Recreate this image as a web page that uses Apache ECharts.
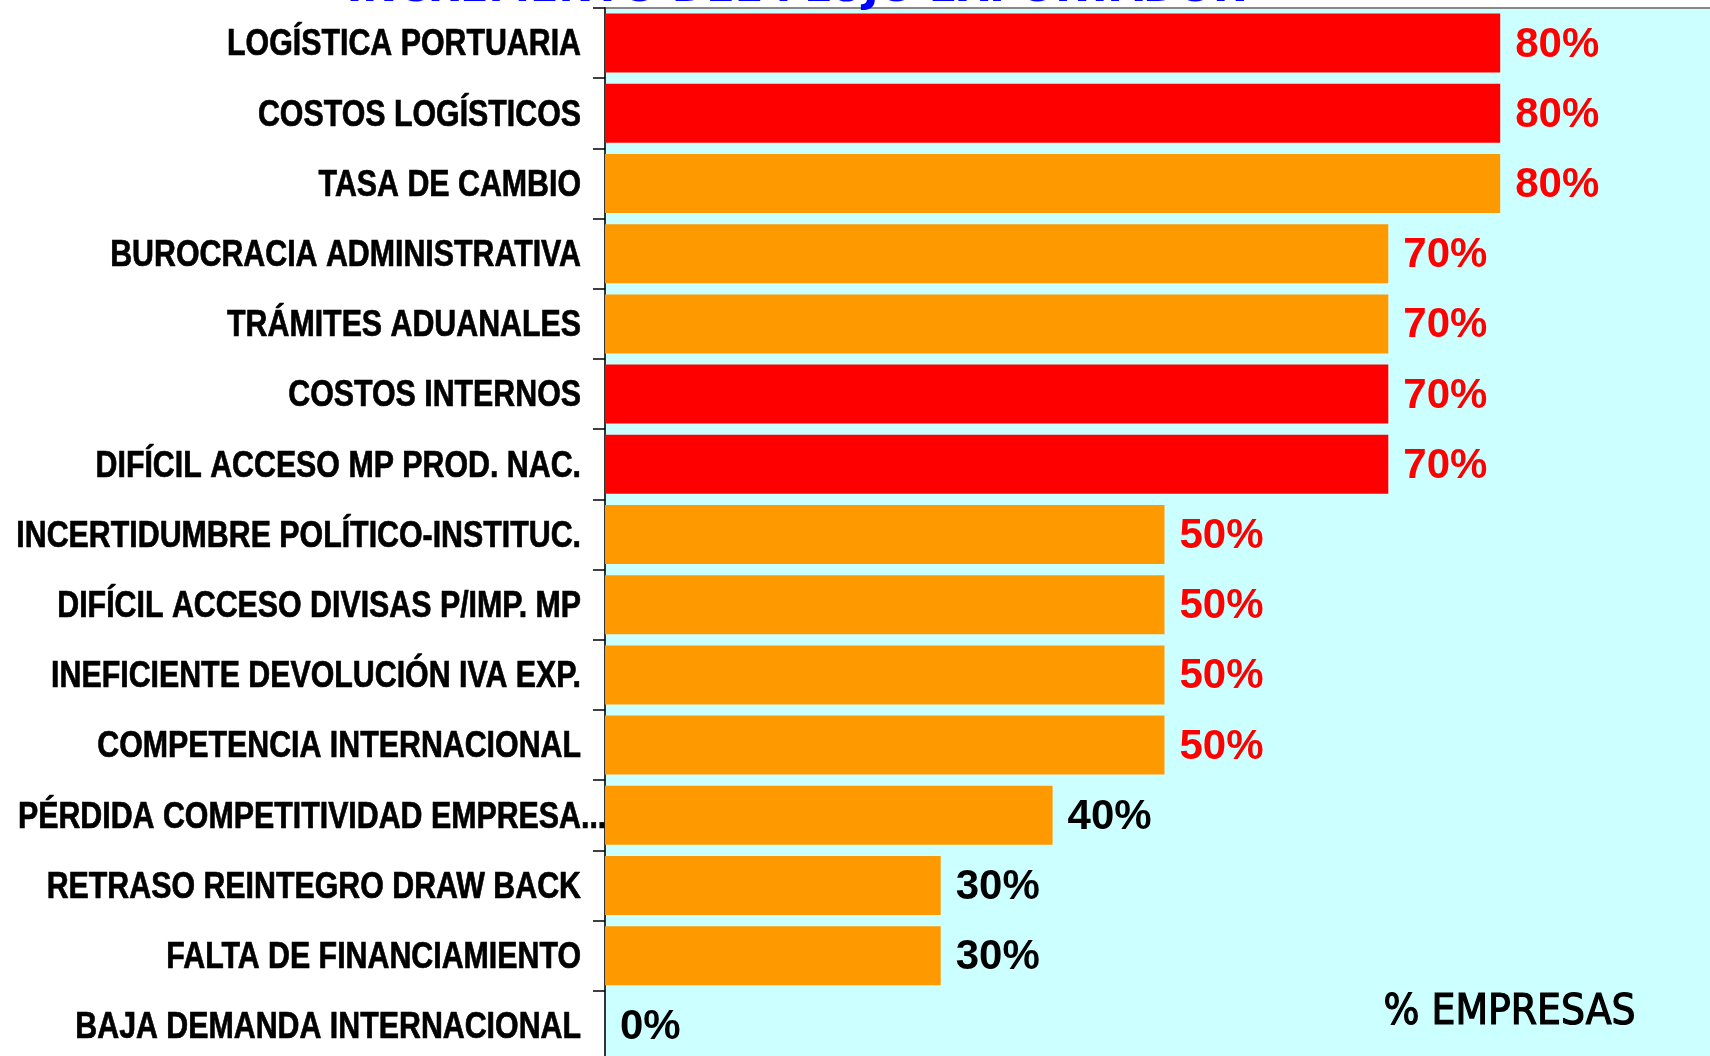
<!DOCTYPE html>
<html>
<head>
<meta charset="utf-8">
<script src="https://cdn.jsdelivr.net/npm/echarts@6/dist/echarts.min.js"></script>
<style>
html,body{margin:0;padding:0;background:#ffffff;}
#chart{width:1710px;height:1056px;}
</style>
</head>
<body>
<div id="chart"></div>
<script>
// ---- data ----
const categories = [
  'LOGÍSTICA PORTUARIA',
  'COSTOS LOGÍSTICOS',
  'TASA DE CAMBIO',
  'BUROCRACIA ADMINISTRATIVA',
  'TRÁMITES ADUANALES',
  'COSTOS INTERNOS',
  'DIFÍCIL ACCESO MP PROD. NAC.',
  'INCERTIDUMBRE POLÍTICO-INSTITUC.',
  'DIFÍCIL ACCESO DIVISAS P/IMP. MP',
  'INEFICIENTE DEVOLUCIÓN IVA EXP.',
  'COMPETENCIA INTERNACIONAL',
  'PÉRDIDA COMPETITIVIDAD EMPRESA...',
  'RETRASO REINTEGRO DRAW BACK',
  'FALTA DE FINANCIAMIENTO',
  'BAJA DEMANDA INTERNACIONAL'
];
const values = [80, 80, 80, 70, 70, 70, 70, 50, 50, 50, 50, 40, 30, 30, 0];
const valueTicks = [0, 100];
const titleText = 'INCREMENTO DEL FLUJO EXPORTADOR';
const axisNameText = '% EMPRESAS';

// ---- styles ----
const RED = '#FF0000', ORANGE = '#FF9900';
const barColors = [RED, RED, ORANGE, ORANGE, ORANGE, RED, RED, ORANGE, ORANGE, ORANGE, ORANGE, ORANGE, ORANGE, ORANGE, ORANGE];
const labelColors = values.map(v => v >= 50 ? '#FF0000' : '#000000');
const CAT_FONT = 'bold 37px "Liberation Sans", Arial, sans-serif';
const CAT_SCALE_X = 0.82;   // emulate a narrow face
const CAT_MARGIN = 24;
const CAT_DY = 2;

const chart = echarts.init(document.getElementById('chart'), null, {renderer: 'canvas'});

const option = {
  animation: false,
  backgroundColor: '#ffffff',
  grid: {
    left: 605, right: -14, top: 8, bottom: -5,
    containLabel: false, outerBoundsMode: 'none',
    show: true, backgroundColor: '#CCFFFF', borderColor: '#888888', borderWidth: 2
  },
  xAxis: {
    type: 'value', min: valueTicks[0], max: valueTicks[1],
    show: false, splitLine: {show: false}
  },
  yAxis: {
    type: 'category', data: categories, inverse: true,
    axisLine: {show: true, lineStyle: {color: '#333333', width: 2}},
    axisTick: {show: true, length: 12, lineStyle: {color: '#000000', width: 1.5}},
    axisLabel: {show: false}
  },
  series: [
    {
      type: 'bar',
      barWidth: 59,
      data: values.map((v, i) => ({
        value: v,
        itemStyle: {color: barColors[i]},
        label: {color: labelColors[i]}
      })),
      label: {
        show: true,
        position: 'right',
        distance: 15,
        offset: [0, 2],
        formatter: '{c}%',
        fontFamily: '"Liberation Sans", Arial, sans-serif',
        fontWeight: 'bold',
        fontSize: 42
      }
    },
    {
      // category labels drawn in a condensed style, positioned through the axes
      type: 'custom',
      silent: true,
      clip: false,
      z: 10,
      data: categories.map((c, i) => [0, i]),
      encode: {x: 0, y: 1},
      renderItem: function (params, api) {
        const idx = api.value(1);
        const p = api.coord([0, idx]);
        const name = categories[idx];
        const x = p[0] - CAT_MARGIN;
        const y = p[1] + CAT_DY;
        const children = [];
        let main = name, tail = '';
        if (name.endsWith('...')) { main = name.slice(0, -3); tail = '...'; }
        const st = {font: CAT_FONT, fill: '#000000', stroke: '#000000', lineWidth: 0.7, verticalAlign: 'middle'};
        children.push({
          type: 'text', x: x, y: y, scaleX: CAT_SCALE_X,
          style: Object.assign({text: main, align: 'right'}, st)
        });
        if (tail) {
          children.push({
            type: 'text', x: x, y: y, scaleX: CAT_SCALE_X,
            style: Object.assign({text: tail, align: 'left'}, st)
          });
        }
        return {type: 'group', children: children};
      }
    }
  ],
  graphic: [
    {
      type: 'text', x: 796, y: -31, z: 100,
      style: {
        text: titleText, fill: '#0000FF', align: 'center', verticalAlign: 'top',
        font: 'bold 41.7px "DejaVu Sans", Verdana, sans-serif'
      }
    },
    {
      type: 'text', left: 1383, top: 991, z: 100,
      style: {
        text: axisNameText, fill: '#000000', stroke: '#000000', lineWidth: 1.2,
        font: '42px "DejaVu Sans Condensed", "DejaVu Sans", sans-serif'
      }
    }
  ]
};
chart.setOption(option);
</script>
</body>
</html>
